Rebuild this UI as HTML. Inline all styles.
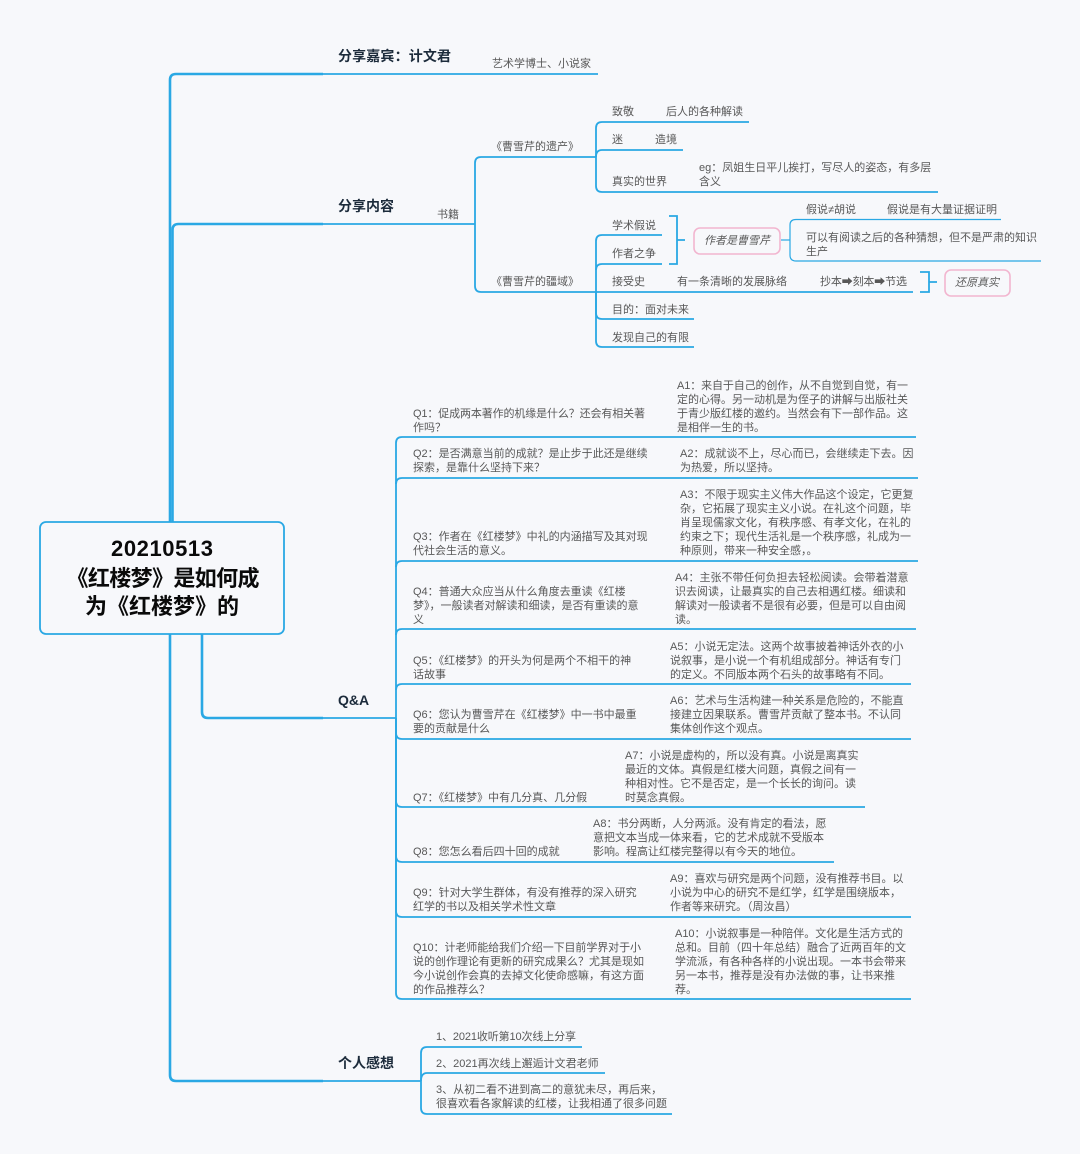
<!DOCTYPE html>
<html><head><meta charset="utf-8">
<style>
html,body{margin:0;padding:0;background:#f7f8fb;width:1080px;height:1154px;overflow:hidden}
svg{display:block}
text{font-family:"Liberation Sans","Noto Sans CJK SC",sans-serif;font-size:11px;fill:#585858}
.b{font-size:14px;font-weight:700;fill:#1c2b3b}
.r{font-size:22px;font-weight:700;fill:#0a0a0a;text-anchor:middle}
.i{font-style:italic;fill:#5a5a5a;text-anchor:middle}
path,line{fill:none;stroke:#2aa8e4;stroke-width:1.6}
.t{stroke-width:2.6}.m{stroke-width:1.8}.s{stroke-width:1.2}
rect{fill:#f7f8fb}
</style></head><body>
<svg width="1080" height="1154" viewBox="0 0 1080 1154" xmlns="http://www.w3.org/2000/svg">
<!-- trunks -->
<path class="t" d="M170 522V80Q170 74 176 74H323"/>
<path class="m" d="M323 74H598"/>
<path class="t" d="M172.500 522V230Q172.500 224 178.500 224H323"/>
<path class="m" d="M323 224H475"/>
<path class="t" d="M202 634V712Q202 718 208 718H323"/>
<path class="m" d="M323 718H396"/>
<path class="t" d="M170 634V1075Q170 1081 176 1081H323"/>
<path class="m" d="M323 1081H421"/>
<!-- 书籍 -->
<path class="m" d="M475 224V163Q475 157 481 157H596"/>
<path class="m" d="M475 224V286Q475 292 481 292H596"/>
<!-- 遗产 -->
<path class="m" d="M596 157V128Q596 122 602 122H749"/>
<path class="m" d="M596 157Q596 150 602 150H683"/>
<path class="m" d="M596 157V186Q596 192 602 192H938"/>
<!-- 疆域 -->
<path class="m" d="M596 292V241Q596 235 602 235H662"/>
<path class="m" d="M596 270Q596 264 602 264H662"/>
<path class="m" d="M596 292H913"/>
<path class="m" d="M596 292V313Q596 319 602 319H694"/>
<path class="m" d="M596 292V341Q596 347 602 347H694"/>
<!-- brackets -->
<path class="m" d="M669 216H677V264H669M677 240H685"/>
<path class="s" d="M781 240H790"/>
<path class="s" d="M790 240V225Q790 219.500 796 219.500H1001"/>
<path class="s" d="M790 240V255Q790 261 796 261H1041"/>
<path class="m" d="M920 272H929V292H920M929 282H937"/>
<rect x="694" y="228" width="86" height="26" rx="6" style="stroke:#f2b6d0;stroke-width:1.6"/>
<rect x="945" y="270" width="65" height="26" rx="6" style="stroke:#f2b6d0;stroke-width:1.6"/>
<!-- Q&A -->
<path class="m" d="M396 718V443Q396 437 402 437H916"/>
<path class="m" d="M396 484Q396 478 402 478H918"/>
<path class="m" d="M396 567Q396 561 402 561H918"/>
<path class="m" d="M396 635Q396 629 402 629H916"/>
<path class="m" d="M396 690Q396 684 402 684H911"/>
<path class="m" d="M396 718V733Q396 739 402 739H911"/>
<path class="m" d="M396 718V801Q396 807 402 807H865"/>
<path class="m" d="M396 718V856Q396 862 402 862H834"/>
<path class="m" d="M396 718V911Q396 917 402 917H911"/>
<path class="m" d="M396 718V993Q396 999 402 999H911"/>
<!-- 感想 -->
<path class="m" d="M421 1081V1053Q421 1047 427 1047H582"/>
<path class="m" d="M421 1081Q421 1073 427 1073H605"/>
<path class="m" d="M421 1081V1108Q421 1114 427 1114H672"/>
<!-- root -->
<rect x="40" y="522" width="244" height="112" rx="6" style="stroke:#2aa8e4;stroke-width:1.8"/>
<text class="r" x="162" y="556" textLength="102">20210513</text>
<text class="r" x="163" y="586" textLength="193">《红楼梦》是如何成</text>
<text class="r" x="162" y="614">为《红楼梦》的</text>
<!-- level 1 -->
<text class="b" x="338" y="61" textLength="113">分享嘉宾&#xFF1A;计文君</text>
<text class="b" x="338" y="211">分享内容</text>
<text class="b" x="338" y="705">Q&amp;A</text>
<text class="b" x="338" y="1068">个人感想</text>
<text x="492" y="67">艺术学博士、小说家</text>
<text x="437" y="218">书籍</text>
<text x="491" y="150">《曹雪芹的遗产》</text>
<text x="491" y="285">《曹雪芹的疆域》</text>
<text x="612" y="115">致敬</text><text x="666" y="115">后人的各种解读</text>
<text x="612" y="143">迷</text><text x="655" y="143">造境</text>
<text x="612" y="185">真实的世界</text>
<text x="699" y="171">eg&#xFF1A;凤姐生日平儿挨打&#xFF0C;写尽人的姿态&#xFF0C;有多层</text>
<text x="699" y="185">含义</text>
<text x="612" y="229">学术假说</text>
<text x="612" y="257">作者之争</text>
<text class="i" x="737" y="244">作者是曹雪芹</text>
<text x="806" y="213">假说≠胡说</text><text x="887" y="213">假说是有大量证据证明</text>
<text x="806" y="241">可以有阅读之后的各种猜想&#xFF0C;但不是严肃的知识</text>
<text x="806" y="255">生产</text>
<text x="612" y="285">接受史</text>
<text x="677" y="285">有一条清晰的发展脉络</text>
<text x="820" y="285" textLength="87">抄本➡刻本➡节选</text>
<text class="i" x="977" y="286">还原真实</text>
<text x="612" y="313">目的&#xFF1A;面对未来</text>
<text x="612" y="341">发现自己的有限</text>
<!-- Q -->
<text x="413" y="417" textLength="232">Q1&#xFF1A;促成两本著作的机缘是什么&#xFF1F;还会有相关著</text>
<text x="413" y="431">作吗&#xFF1F;</text>
<text x="677" y="389" textLength="231">A1&#xFF1A;来自于自己的创作&#xFF0C;从不自觉到自觉&#xFF0C;有一</text>
<text x="677" y="403">定的心得。另一动机是为侄子的讲解与出版社关</text>
<text x="677" y="417">于青少版红楼的邀约。当然会有下一部作品。这</text>
<text x="677" y="431">是相伴一生的书。</text>
<text x="413" y="457">Q2&#xFF1A;是否满意当前的成就&#xFF1F;是止步于此还是继续</text>
<text x="413" y="471">探索&#xFF0C;是靠什么坚持下来&#xFF1F;</text>
<text x="680" y="457">A2&#xFF1A;成就谈不上&#xFF0C;尽心而已&#xFF0C;会继续走下去。因</text>
<text x="680" y="471">为热爱&#xFF0C;所以坚持。</text>
<text x="413" y="540">Q3&#xFF1A;作者在《红楼梦》中礼的内涵描写及其对现</text>
<text x="413" y="554">代社会生活的意义。</text>
<text x="680" y="498">A3&#xFF1A;不限于现实主义伟大作品这个设定&#xFF0C;它更复</text>
<text x="680" y="512">杂&#xFF0C;它拓展了现实主义小说。在礼这个问题&#xFF0C;毕</text>
<text x="680" y="526">肖呈现儒家文化&#xFF0C;有秩序感、有孝文化&#xFF0C;在礼的</text>
<text x="680" y="540">约束之下&#xFF1B;现代生活礼是一个秩序感&#xFF0C;礼成为一</text>
<text x="680" y="554">种原则&#xFF0C;带来一种安全感&#xFF0C;。</text>
<text x="413" y="595">Q4&#xFF1A;普通大众应当从什么角度去重读《红楼</text>
<text x="413" y="609">梦》&#xFF0C;一般读者对解读和细读&#xFF0C;是否有重读的意</text>
<text x="413" y="623">义</text>
<text x="675" y="581">A4&#xFF1A;主张不带任何负担去轻松阅读。会带着潜意</text>
<text x="675" y="595">识去阅读&#xFF0C;让最真实的自己去相遇红楼。细读和</text>
<text x="675" y="609">解读对一般读者不是很有必要&#xFF0C;但是可以自由阅</text>
<text x="675" y="623">读。</text>
<text x="413" y="664">Q5&#xFF1A;《红楼梦》的开头为何是两个不相干的神</text>
<text x="413" y="678">话故事</text>
<text x="670" y="650">A5&#xFF1A;小说无定法。这两个故事披着神话外衣的小</text>
<text x="670" y="664">说叙事&#xFF0C;是小说一个有机组成部分。神话有专门</text>
<text x="670" y="678">的定义。不同版本两个石头的故事略有不同。</text>
<text x="413" y="718">Q6&#xFF1A;您认为曹雪芹在《红楼梦》中一书中最重</text>
<text x="413" y="732">要的贡献是什么</text>
<text x="670" y="704">A6&#xFF1A;艺术与生活构建一种关系是危险的&#xFF0C;不能直</text>
<text x="670" y="718">接建立因果联系。曹雪芹贡献了整本书。不认同</text>
<text x="670" y="732">集体创作这个观点。</text>
<text x="413" y="801">Q7&#xFF1A;《红楼梦》中有几分真、几分假</text>
<text x="625" y="759">A7&#xFF1A;小说是虚构的&#xFF0C;所以没有真。小说是离真实</text>
<text x="625" y="773">最近的文体。真假是红楼大问题&#xFF0C;真假之间有一</text>
<text x="625" y="787">种相对性。它不是否定&#xFF0C;是一个长长的询问。读</text>
<text x="625" y="801">时莫念真假。</text>
<text x="413" y="855">Q8&#xFF1A;您怎么看后四十回的成就</text>
<text x="593" y="827">A8&#xFF1A;书分两断&#xFF0C;人分两派。没有肯定的看法&#xFF0C;愿</text>
<text x="593" y="841">意把文本当成一体来看&#xFF0C;它的艺术成就不受版本</text>
<text x="593" y="855">影响。程高让红楼完整得以有今天的地位。</text>
<text x="413" y="896">Q9&#xFF1A;针对大学生群体&#xFF0C;有没有推荐的深入研究</text>
<text x="413" y="910">红学的书以及相关学术性文章</text>
<text x="670" y="882">A9&#xFF1A;喜欢与研究是两个问题&#xFF0C;没有推荐书目。以</text>
<text x="670" y="896">小说为中心的研究不是红学&#xFF0C;红学是围绕版本&#xFF0C;</text>
<text x="670" y="910">作者等来研究。&#xFF08;周汝昌&#xFF09;</text>
<text x="413" y="951" textLength="228">Q10&#xFF1A;计老师能给我们介绍一下目前学界对于小</text>
<text x="413" y="965">说的创作理论有更新的研究成果么&#xFF1F;尤其是现如</text>
<text x="413" y="979">今小说创作会真的去掉文化使命感嘛&#xFF0C;有这方面</text>
<text x="413" y="993">的作品推荐么&#xFF1F;</text>
<text x="675" y="937" textLength="228">A10&#xFF1A;小说叙事是一种陪伴。文化是生活方式的</text>
<text x="675" y="951">总和。目前&#xFF08;四十年总结&#xFF09;融合了近两百年的文</text>
<text x="675" y="965">学流派&#xFF0C;有各种各样的小说出现。一本书会带来</text>
<text x="675" y="979">另一本书&#xFF0C;推荐是没有办法做的事&#xFF0C;让书来推</text>
<text x="675" y="993">荐。</text>
<!-- 感想 -->
<text x="436" y="1040" textLength="140">1、2021收听第10次线上分享</text>
<text x="436" y="1067">2、2021再次线上邂逅计文君老师</text>
<text x="436" y="1093">3、从初二看不进到高二的意犹未尽&#xFF0C;再后来&#xFF0C;</text>
<text x="436" y="1107">很喜欢看各家解读的红楼&#xFF0C;让我相通了很多问题</text>
</svg>
</body></html>
